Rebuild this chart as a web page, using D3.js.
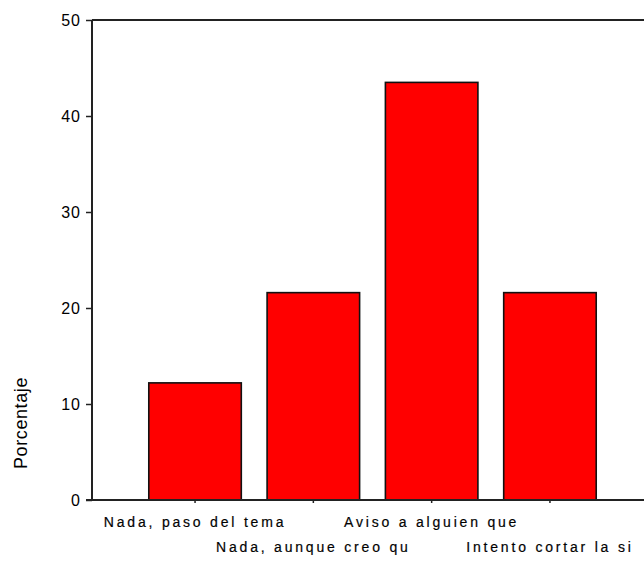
<!DOCTYPE html>
<html>
<head>
<meta charset="utf-8">
<script src="https://cdn.jsdelivr.net/npm/d3@7"></script>
<style>
  body { margin: 0; background: #fff; }
  svg { display: block; }
  text { font-family: "Liberation Sans", Arial, sans-serif; fill: #000; }
</style>
</head>
<body>
<svg id="chart" width="644" height="570"></svg>
<script>
const categories = ["Nada, paso del tema", "Nada, aunque creo qu", "Aviso a alguien que", "Intento cortar la si"];
const values = [12.2, 21.6, 43.5, 21.6];
const yTicks = [0, 10, 20, 30, 40, 50];
const yTitle = "Porcentaje";

const svg = d3.select("#chart");
const x0 = 92, yTop = 20, yBottom = 500;

const x = d3.scaleBand().domain(categories).range([x0, 653])
  .paddingInner(0.218).paddingOuter(0.48);
const y = d3.scaleLinear().domain([0, 50]).range([yBottom, yTop]);

// bars
svg.append("g").selectAll("rect").data(values).join("rect")
  .attr("x", (d, i) => x(categories[i]))
  .attr("y", d => y(d))
  .attr("width", x.bandwidth())
  .attr("height", d => y(0) - y(d))
  .attr("fill", "#ff0000")
  .attr("stroke", "#111")
  .attr("stroke-width", 1.6);

// y axis
const yAxis = d3.axisLeft(y).tickValues(yTicks).tickSize(6).tickPadding(5);
const gy = svg.append("g").attr("transform", `translate(${x0},0)`).call(yAxis);
gy.select(".domain").remove();
gy.selectAll(".tick line").attr("stroke", "#222").attr("stroke-width", 1.5);
gy.selectAll(".tick text").attr("font-size", 16).attr("letter-spacing", 1)
  .attr("font-family", "'Liberation Sans', Arial, sans-serif").attr("fill", "#222");

// axis lines / frame
svg.append("line").attr("x1", x0).attr("x2", x0).attr("y1", yTop).attr("y2", yBottom)
  .attr("stroke", "#222").attr("stroke-width", 2);
svg.append("line").attr("x1", x0).attr("x2", 644).attr("y1", yTop).attr("y2", yTop)
  .attr("stroke", "#222").attr("stroke-width", 2);

// x axis
const xAxis = d3.axisBottom(x).tickSize(3).tickFormat("");
const gx = svg.append("g").attr("transform", `translate(0,${yBottom})`).call(xAxis);
gx.select(".domain").remove();
gx.selectAll(".tick line").attr("stroke", "#222").attr("stroke-width", 1.5);
svg.append("line").attr("x1", x0 - 6).attr("x2", 644).attr("y1", yBottom).attr("y2", yBottom)
  .attr("stroke", "#222").attr("stroke-width", 2);

// category labels (staggered)
svg.append("g").selectAll("text").data(categories).join("text")
  .attr("x", d => x(d) + x.bandwidth() / 2)
  .attr("y", (d, i) => i % 2 === 0 ? 527 : 552)
  .attr("text-anchor", "middle")
  .attr("font-size", 14)
  .attr("letter-spacing", 2.8)
  .attr("fill", "#111")
  .attr("stroke", "#111").attr("stroke-width", 0.2)
  .text(d => d);

// y title
svg.append("text")
  .attr("transform", "translate(27,423) rotate(-90)")
  .attr("text-anchor", "middle")
  .attr("font-size", 18)
  .attr("letter-spacing", 0.6)
  .attr("fill", "#222")
  .text(yTitle);
</script>
</body>
</html>
